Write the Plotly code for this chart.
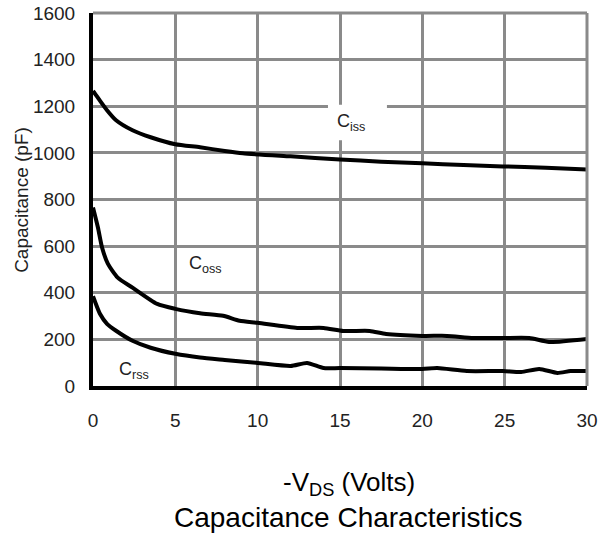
import plotly.graph_objects as go

vds_ciss = [0, 0.1, 0.4, 0.85, 1.4, 2.4, 3.5, 5, 6.5, 8, 9.1, 12, 15, 17.5, 20, 22.5, 24.9, 27.5, 30]
ciss = [1265, 1256, 1226, 1183, 1140, 1097, 1067, 1037, 1024, 1008, 998, 985, 972, 962, 955, 948, 942, 936, 929]

vds_coss = [0, 0.3, 0.55, 0.9, 1.5, 2.4, 3.9, 5, 6.5, 7.9, 8.9, 10, 12.4, 14, 15.2, 16.8, 17.8, 20, 21.5, 23.1, 24.9, 26.5, 27.7, 30]
coss = [766, 680, 594, 525, 465, 422, 352, 331, 312, 301, 280, 271, 249, 249, 236, 236, 223, 215, 215, 206, 206, 206, 189, 202]

vds_crss = [0, 0.42, 0.85, 1.4, 2.4, 3.5, 5, 6.5, 8, 10, 12, 13, 14, 15, 17.5, 20, 20.9, 22.7, 24.9, 26, 27.1, 28.2, 29, 30]
crss = [385, 310, 267, 237, 194, 164, 138, 122, 112, 99, 86, 99, 77, 77, 75, 73, 77, 64, 64, 60, 73, 56, 64, 64]

x_ticks = [0, 5, 10, 15, 20, 25, 30]
y_ticks = [0, 200, 400, 600, 800, 1000, 1200, 1400, 1600]

labels = ["C<sub>iss</sub>", "C<sub>oss</sub>", "C<sub>rss</sub>"]
label_x = [15.67, 6.86, 2.49]
label_y = [1131, 520, 65]

FONT = "Liberation Sans, Arial, sans-serif"
GRID = "#8a8a8a"

fig = go.Figure()
for xs, ys in [(vds_ciss, ciss), (vds_coss, coss), (vds_crss, crss)]:
    fig.add_trace(go.Scatter(x=xs, y=ys, mode="lines",
                             line=dict(color="black", width=4, shape="spline", smoothing=0.6),
                             showlegend=False, hoverinfo="skip"))

# white box behind Ciss label (hides gridlines)
fig.add_shape(type="rect", xref="x", yref="y", x0=14.27, x1=17.85, y0=1054, y1=1206,
              fillcolor="white", line=dict(width=0), layer="between")

for t, lx, ly in zip(labels, label_x, label_y):
    fig.add_annotation(x=lx, y=ly, text=t, showarrow=False,
                       font=dict(family=FONT, size=18, color="#222"))

# top and right borders (gray)
fig.add_shape(type="line", xref="paper", yref="paper", x0=0, x1=1, y0=1, y1=1,
              line=dict(color=GRID, width=3), layer="above")
fig.add_shape(type="line", xref="paper", yref="paper", x0=1, x1=1, y0=0, y1=1,
              line=dict(color=GRID, width=3), layer="above")

# y-axis title
fig.add_annotation(xref="paper", yref="paper", x=-0.145, y=0.5, xanchor="center", yanchor="middle",
                   text="Capacitance (pF)", textangle=-90, showarrow=False,
                   font=dict(family=FONT, size=19, color="#222"))

# axis caption lines
fig.add_annotation(xref="paper", yref="paper", x=0.518, y=-0.262, xanchor="center", yanchor="middle",
                   text="-V<sub>DS</sub> (Volts)", showarrow=False,
                   font=dict(family=FONT, size=26, color="black"))
fig.add_annotation(xref="paper", yref="paper", x=0.518, y=-0.352, xanchor="center", yanchor="middle",
                   text="Capacitance Characteristics", showarrow=False,
                   font=dict(family=FONT, size=28, color="black"))

fig.update_layout(
    width=611, height=538,
    margin=dict(l=93, r=24, t=13, b=152, autoexpand=False),
    plot_bgcolor="white", paper_bgcolor="white",
    font=dict(family=FONT, color="#222"),
    xaxis=dict(range=[0, 30], tickvals=x_ticks, showgrid=True, gridcolor=GRID, gridwidth=3,
               showline=True, linecolor="black", linewidth=4, zeroline=False,
               ticks="", tickfont=dict(size=19, family=FONT, color="#222"),
               ticklabelstandoff=14, automargin=False, ticklabeloverflow="allow"),
    yaxis=dict(range=[0, 1600], tickvals=y_ticks, showgrid=True, gridcolor=GRID, gridwidth=3,
               showline=True, linecolor="black", linewidth=4, zeroline=False,
               ticks="", tickfont=dict(size=19, family=FONT, color="#222"),
               ticklabelstandoff=10, automargin=False, ticklabeloverflow="allow"),
)

fig.write_html("out.html", config={"displayModeBar": False},
               post_script="document.body.style.margin='0';")
